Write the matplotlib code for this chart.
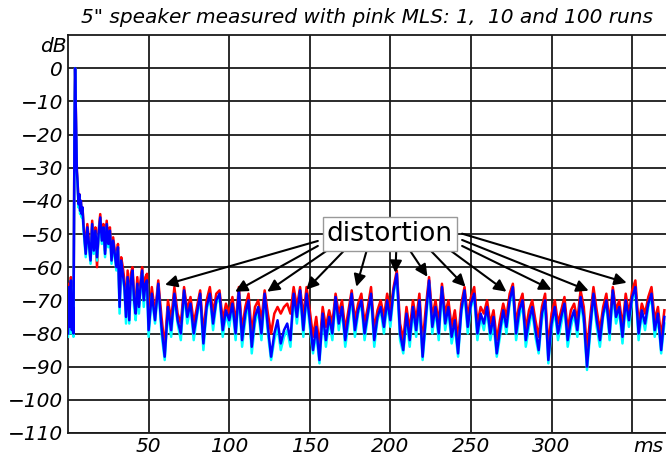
import numpy as np
import matplotlib
matplotlib.use("Agg")
import matplotlib.pyplot as plt

# time grid (ms): fine around the impulse, then 1 ms, then 2 ms
t_fine = [0, 0.6, 1.2, 1.8, 2.4, 3.0, 3.4, 4.0, 4.4, 5.0, 5.5, 6.0, 6.5, 7.0, 7.5, 8.0, 8.5, 9.0, 9.5]
t_ms = np.concatenate([t_fine, np.arange(10, 50, 1), np.arange(50, 371, 2)])

# 100 runs (blue)
blue_db = [
    -80, -66, -78, -64, -79, -72, -80, -20, 0, -18, -31, -35, -41, -38, -43, -40, -44, -42, -47,
    -50, -56, -48, -53, -58, -47, -55, -49, -57, -50,
    -45, -52, -48, -56, -47, -53, -49, -58, -52, -56,
    -60, -54, -72, -58, -62, -66, -75, -63, -76, -64,
    -61, -70, -74, -65, -72, -66, -61, -70, -65, -64,
    -79, -68, -76, -65, -78, -87, -72, -79, -68, -76,
    -80, -67, -75, -71, -80, -74, -68, -83, -72, -68,
    -77, -70, -68, -79, -73, -76, -71, -80, -67, -82,
    -74, -70, -84, -75, -72, -80, -68, -78, -87, -80,
    -76, -83, -79, -77, -82, -68, -75, -67, -79, -68,
    -76, -85, -78, -88, -74, -82, -75, -80, -69, -77,
    -72, -82, -75, -68, -79, -73, -70, -80, -74, -68,
    -82, -75, -72, -78, -70, -76, -67, -62, -80, -85,
    -74, -82, -72, -79, -70, -87, -75, -64, -78, -72,
    -80, -66, -77, -72, -81, -76, -86, -73, -67, -78,
    -71, -68, -80, -74, -77, -72, -80, -75, -86, -79,
    -73, -78, -70, -66, -80, -73, -70, -82, -76, -72,
    -79, -85, -74, -70, -88, -77, -72, -80, -75, -71,
    -82, -76, -73, -79, -69, -75, -90, -78, -68, -76,
    -82, -74, -70, -80, -67, -75, -72, -81, -70, -76,
    -69, -66, -80, -73, -77, -71, -68, -79, -74, -85,
    -75,
]

# 1 run (red)
red_db = [
    -70, -65, -76, -63, -77, -70, -78, -20, 0, -18, -31, -35, -40, -38, -42, -40, -44, -42, -46,
    -49, -55, -47, -52, -56, -46, -54, -48, -60, -49,
    -44, -51, -47, -55, -46, -52, -48, -56, -51, -55,
    -58, -53, -70, -57, -60, -64, -73, -61, -74, -62,
    -60, -68, -72, -63, -70, -64, -60, -68, -63, -62,
    -76, -66, -74, -64, -75, -84, -70, -76, -66, -74,
    -77, -66, -73, -69, -77, -72, -67, -80, -70, -66,
    -74, -68, -67, -76, -71, -74, -69, -77, -66, -79,
    -72, -68, -80, -72, -70, -76, -67, -74, -80, -74,
    -72, -74, -72, -71, -74, -66, -72, -66, -75, -66,
    -73, -81, -75, -84, -72, -78, -73, -77, -68, -74,
    -70, -79, -73, -67, -76, -71, -68, -77, -72, -66,
    -79, -73, -70, -75, -68, -73, -66, -61, -77, -82,
    -72, -79, -70, -76, -68, -83, -72, -63, -75, -70,
    -77, -65, -74, -70, -78, -73, -82, -71, -66, -75,
    -69, -66, -77, -72, -74, -70, -77, -73, -82, -76,
    -71, -75, -68, -65, -77, -71, -68, -79, -73, -70,
    -76, -81, -72, -68, -84, -74, -70, -77, -73, -69,
    -79, -73, -71, -76, -67, -72, -85, -75, -66, -73,
    -79, -72, -68, -77, -66, -73, -70, -78, -68, -74,
    -67, -64, -77, -71, -74, -69, -66, -76, -72, -81,
    -73,
]

# 10 runs (cyan)
cyan_db = [
    -81, -67, -80, -66, -80, -74, -81, -20, 0, -19, -32, -36, -42, -39, -44, -41, -45, -43, -48,
    -51, -57, -49, -54, -59, -48, -56, -50, -58, -51,
    -46, -53, -49, -57, -48, -54, -50, -59, -53, -57,
    -61, -55, -74, -59, -63, -67, -77, -64, -77, -65,
    -62, -72, -76, -66, -74, -67, -62, -72, -66, -65,
    -81, -69, -77, -66, -80, -88, -73, -81, -69, -77,
    -82, -68, -77, -72, -82, -75, -69, -85, -73, -69,
    -79, -71, -69, -81, -74, -78, -72, -82, -68, -84,
    -76, -71, -86, -77, -73, -82, -69, -80, -88, -82,
    -78, -85, -81, -79, -84, -69, -77, -68, -81, -69,
    -78, -86, -80, -89, -75, -84, -76, -82, -70, -79,
    -73, -84, -77, -69, -81, -74, -71, -82, -75, -69,
    -84, -76, -73, -80, -71, -78, -68, -63, -82, -86,
    -76, -84, -73, -81, -71, -88, -77, -65, -80, -73,
    -82, -67, -79, -73, -83, -78, -87, -74, -68, -80,
    -72, -69, -82, -75, -79, -73, -82, -77, -87, -81,
    -74, -80, -71, -67, -82, -75, -71, -84, -78, -73,
    -81, -86, -76, -71, -89, -79, -73, -82, -77, -72,
    -84, -78, -74, -81, -70, -77, -91, -80, -69, -78,
    -84, -75, -71, -82, -68, -77, -73, -83, -71, -78,
    -70, -67, -82, -74, -79, -72, -69, -81, -75, -86,
    -77,
]

x_ticks = [50, 100, 150, 200, 250, 300]
y_ticks = [0, -10, -20, -30, -40, -50, -60, -70, -80, -90, -100, -110]

# arrow tips and tails (ms, dB)
arrow_tips = [(60.2, -65.3), (103.7, -67.4), (123.6, -67.4), (147.8, -66.8),
              (178.9, -65.9), (203.1, -61.7), (223.0, -62.9), (246.6, -65.9),
              (272.0, -67.4), (300.0, -66.8), (323.0, -67.1), (346.6, -64.7)]
arrow_tails = [(155.0, -52.1), (155.0, -53.6), (162.7, -54.3), (172.7, -54.3),
               (185.7, -54.3), (203.7, -54.3), (211.2, -54.3), (223.6, -54.3),
               (235.4, -54.3), (244.5, -53.6), (244.5, -51.8), (244.5, -49.9)]

fig = plt.figure(figsize=(6.66, 4.55), dpi=100)
ax = fig.add_axes([68 / 666, 1 - 433 / 455, 1 - 68 / 666, (433 - 35) / 455])

ax.plot(t_ms, red_db, color="#ff0000", lw=1.8, zorder=3)
ax.plot(t_ms, cyan_db, color="#00ffff", lw=1.8, zorder=4)
ax.plot(t_ms, blue_db, color="#0000ff", lw=1.8, zorder=5)

ax.set_xlim(0, 371)
ax.set_ylim(-110, 10)
ax.set_xticks(x_ticks)
ax.set_yticks(y_ticks)
ax.grid(True, color="#1a1a1a", lw=1.3, zorder=1)
ax.set_axisbelow(True)
ax.tick_params(length=0, labelsize=14.5)
ax.tick_params(axis="y", pad=3.5)
ax.tick_params(axis="x", pad=3)
for lab in ax.get_xticklabels() + ax.get_yticklabels():
    lab.set_fontstyle("italic")
for s in ["left", "bottom", "top"]:
    ax.spines[s].set_linewidth(1.3)
    ax.spines[s].set_color("#1a1a1a")
ax.spines["right"].set_visible(False)
ax.axvline(350, color="#1a1a1a", lw=1.3, zorder=1)

ax.text(-1, 9.5, "dB", ha="right", va="top", fontsize=14.5, style="italic", clip_on=False)
ax.annotate("ms", xy=(360, -110), xytext=(0, -3), textcoords="offset points",
            ha="center", va="top", fontsize=14.5, style="italic", annotation_clip=False)
ax.text(0.5, 1.02, '5" speaker measured with pink MLS: 1,  10 and 100 runs',
        transform=ax.transAxes, ha="center", va="bottom", fontsize=14.5, style="italic")

for tip, tail in zip(arrow_tips, arrow_tails):
    ax.annotate("", xy=tip, xytext=tail,
                arrowprops=dict(arrowstyle="-|>", color="black", lw=1.5,
                                mutation_scale=18, shrinkA=0, shrinkB=0),
                zorder=6)

ax.text(199.7, -50.0, "distortion", ha="center", va="center", fontsize=19, zorder=8,
        bbox=dict(boxstyle="square,pad=0.14", fc="white", ec="#999999", lw=1))

fig.savefig("out.png", dpi=100)
